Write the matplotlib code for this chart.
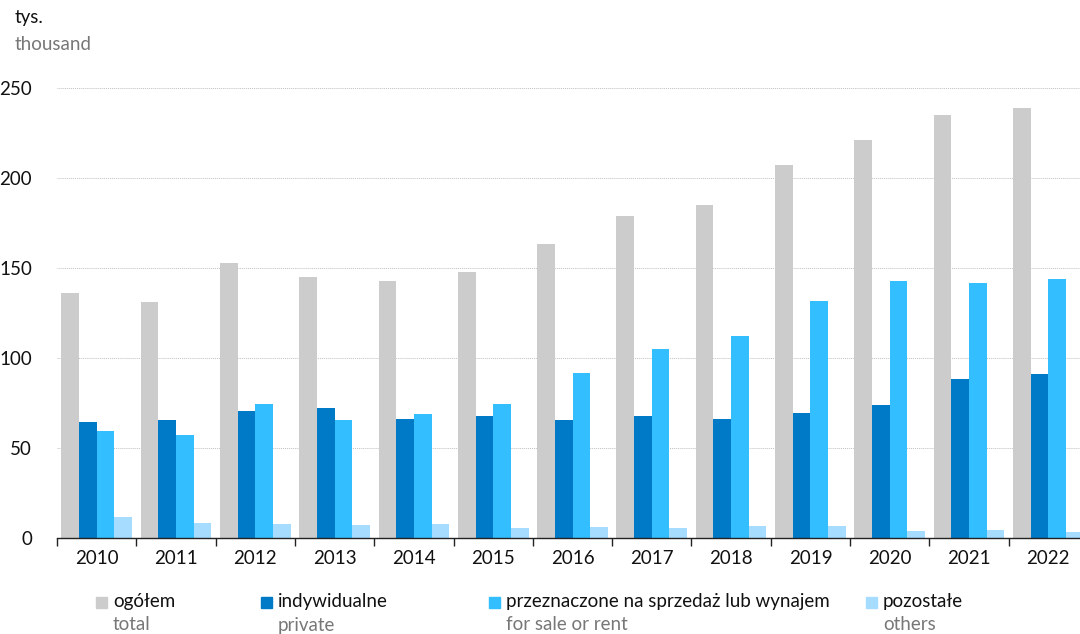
import matplotlib
matplotlib.use("Agg")
import matplotlib.pyplot as plt
import numpy as np
from matplotlib.patches import Rectangle

plt.rcParams['font.family'] = ['Lato', 'DejaVu Sans']

years = ['2010', '2011', '2012', '2013', '2014', '2015', '2016',
         '2017', '2018', '2019', '2020', '2021', '2022']
total = [135.9, 131.1, 152.8, 145.0, 142.8, 147.8, 163.3,
         178.9, 185.0, 207.4, 220.9, 234.8, 238.7]
private = [64.6, 65.4, 70.4, 72.0, 66.1, 67.8, 65.6,
           67.8, 66.1, 69.3, 73.9, 88.3, 90.9]
for_sale = [59.3, 57.0, 74.3, 65.6, 68.9, 74.4, 91.7,
            105.0, 112.4, 131.5, 142.8, 141.7, 143.9]
others = [11.7, 8.3, 7.9, 7.2, 7.8, 5.6, 6.1,
          5.6, 6.5, 6.7, 3.9, 4.4, 3.5]

series = [total, private, for_sale, others]
labels_pl = ['ogółem', 'indywidualne', 'przeznaczone na sprzedaż lub wynajem', 'pozostałe']
labels_en = ['total', 'private', 'for sale or rent', 'others']
colors = ['#cccccc', '#0079c6', '#33bfff', '#a6dcff']

FS = 13.5
W, H = 1080, 634
fig = plt.figure(figsize=(W / 100, H / 100), dpi=100)
ax = fig.add_axes([57 / W, 96 / H, 1031 / W, 450 / H])

x = np.arange(len(years))
bw = 0.223
offsets = (np.arange(4) - 1.5) * bw
for vals, off, c in zip(series, offsets, colors):
    ax.bar(x + off, vals, width=bw, color=c, zorder=2)

ax.set_xlim(-0.5, len(years) - 0.5)
ax.set_ylim(0, 250)
ax.set_yticks([0, 50, 100, 150, 200, 250])
ax.grid(axis='y', linestyle=(0, (1, 1)), color='#c0c0c0', linewidth=0.7, zorder=0)

# group boundaries get the tick marks, year labels sit between them
ax.set_xticks(np.arange(len(years) + 1) - 0.5)
ax.set_xticklabels([])
ax.set_xticks(x, minor=True)
ax.set_xticklabels(years, minor=True)
ax.tick_params(axis='x', which='major', length=6, width=1, color='#222222', direction='out')
ax.tick_params(axis='x', which='minor', length=0, pad=9, labelsize=FS, labelcolor='#111111')
ax.tick_params(axis='y', length=0, pad=18, labelsize=FS, labelcolor='#111111')

for s in ['top', 'right', 'left']:
    ax.spines[s].set_visible(False)
ax.spines['bottom'].set_color('#222222')
ax.spines['bottom'].set_linewidth(1)

fig.text(15 / W, 1 - 18 / H, 'tys.', fontsize=FS, color='#111111', va='center')
fig.text(15 / W, 1 - 45 / H, 'thousand', fontsize=FS, color='#777777', va='center')

# legend: square + Polish label, English label below in grey
legend_x = [96, 261, 489, 866]
for lx, c, pl, en in zip(legend_x, colors, labels_pl, labels_en):
    fig.patches.append(Rectangle((lx / W, 1 - 608 / H), 11 / W, 11 / H,
                                 transform=fig.transFigure, color=c))
    fig.text((lx + 17) / W, 1 - 601 / H, pl, fontsize=FS, color='#111111', va='center')
    fig.text((lx + 17) / W, 1 - 625 / H, en, fontsize=FS, color='#777777', va='center')

fig.savefig('out.png', dpi=100)
